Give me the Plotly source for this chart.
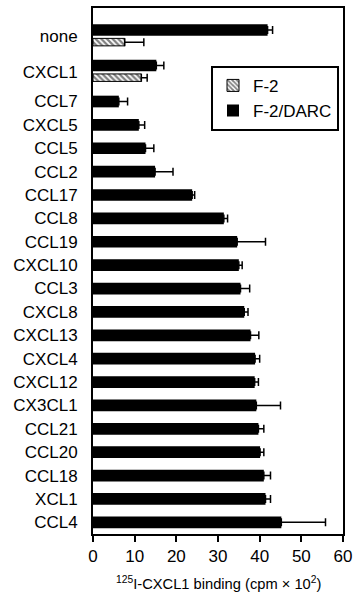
import plotly.graph_objects as go

categories = ["none", "CXCL1", "CCL7", "CXCL5", "CCL5", "CCL2", "CCL17", "CCL8",
              "CCL19", "CXCL10", "CCL3", "CXCL8", "CXCL13", "CXCL4", "CXCL12",
              "CX3CL1", "CCL21", "CCL20", "CCL18", "XCL1", "CCL4"]

darc_values = [41.9, 15.2, 6.2, 11.0, 12.6, 14.9, 23.8, 31.4, 34.6, 35.0, 35.4,
               36.3, 37.8, 38.9, 38.8, 39.2, 39.7, 40.1, 41.0, 41.4, 45.2]
darc_errors = [1.2, 1.8, 2.1, 1.4, 2.0, 4.3, 0.6, 0.9, 6.8, 0.8, 2.2,
               0.9, 2.0, 1.1, 0.9, 5.8, 1.3, 0.9, 1.6, 1.2, 10.6]

f2_categories = ["none", "CXCL1"]
f2_values = [7.6, 11.6]
f2_errors = [4.6, 1.4]

x_ticks = [0, 10, 20, 30, 40, 50, 60]

# layout: row positions along the y axis (paired rows take more room)
row_pos = [1.2, 2.72] + list(range(4, 4 + len(categories) - 2))
pair_shift = 0.26
black_w = 0.5
hatch_w = 0.32
pos_of = dict(zip(categories, row_pos))

darc_offsets = [(-pair_shift if c in f2_categories else 0) - black_w / 2 for c in categories]
f2_pos = [pos_of[c] for c in f2_categories]

FONT = "Liberation Sans, Arial, Helvetica, sans-serif"

fig = go.Figure()
fig.add_trace(go.Bar(
    name="F-2",
    y=f2_pos, x=f2_values, orientation="h",
    width=[hatch_w] * len(f2_values),
    offset=[pair_shift - hatch_w / 2] * len(f2_values),
    marker=dict(color="white", line=dict(color="black", width=1),
                pattern=dict(shape="\\", fgcolor="black", bgcolor="white",
                             size=4, solidity=0.55)),
    error_x=dict(type="data", array=f2_errors, arrayminus=[0] * len(f2_errors),
                 symmetric=False, color="black", thickness=1.5, width=4),
))
fig.add_trace(go.Bar(
    name="F-2/DARC",
    y=row_pos, x=darc_values, orientation="h",
    width=[black_w] * len(darc_values),
    offset=darc_offsets,
    marker=dict(color="black", line=dict(color="black", width=0)),
    error_x=dict(type="data", array=darc_errors, arrayminus=[0] * len(darc_errors),
                 symmetric=False, color="black", thickness=1.5, width=4),
))

fig.update_layout(
    width=359, height=593,
    margin=dict(l=93, r=16, t=8, b=59, autoexpand=False),
    paper_bgcolor="white", plot_bgcolor="white",
    font=dict(family=FONT, color="black", size=17),
    barmode="overlay",
    showlegend=True,
    legend=dict(x=0.472, y=0.89, xanchor="left", yanchor="top",
                bgcolor="white", bordercolor="black", borderwidth=2,
                font=dict(size=17, family=FONT), tracegroupgap=0,
                traceorder="normal", itemwidth=30),
    annotations=[dict(
        text="<sup>125</sup>I-CXCL1 binding (cpm × 10<sup>2</sup>)",
        xref="paper", yref="paper", x=0.5, y=-0.093,
        xanchor="center", yanchor="middle", showarrow=False,
        font=dict(size=14.7, family=FONT, color="black"),
    )],
)
fig.update_xaxes(
    range=[0, 60], tickvals=x_ticks, ticktext=[str(v) for v in x_ticks],
    ticks="outside", ticklen=6, tickwidth=2, tickcolor="black",
    showline=True, linecolor="black", linewidth=2, mirror=True,
    showgrid=False, zeroline=False, automargin=False,
    tickfont=dict(size=17),
)
fig.update_yaxes(
    range=[22.5, 0], tickvals=row_pos, ticktext=categories,
    ticks="", showline=True, linecolor="black", linewidth=2, mirror=True,
    showgrid=False, zeroline=False, ticklabelstandoff=10, automargin=False,
    tickfont=dict(size=17),
)

fig.write_html(
    "out.html",
    config={"displayModeBar": False},
    post_script="document.body.style.margin='0';document.body.style.overflow='hidden';",
)
